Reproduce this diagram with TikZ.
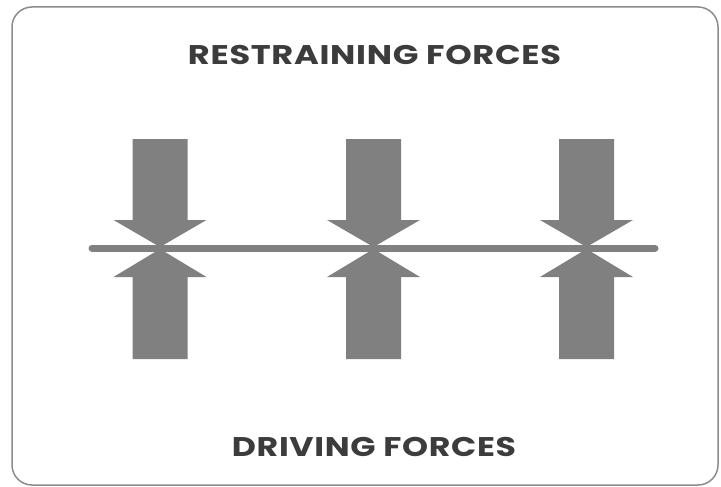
\documentclass[tikz,border=0pt]{standalone}
\usepackage{fontspec}
\setmainfont{Poppins}
\definecolor{arrowgray}{HTML}{808080}
\definecolor{framegray}{HTML}{8C8C8C}
\definecolor{textgray}{HTML}{3C3C3C}
\begin{document}
\begin{tikzpicture}[x=1pt,y=-1pt,
  frame/.style={draw=framegray,line width=1.5pt,rounded corners=20pt},
  forcearrow/.style={fill=arrowgray,draw=none},
  baseline/.style={draw=arrowgray,line width=7pt,line cap=round},
  title/.style={text=textgray,font=\fontsize{27}{30}\selectfont\bfseries\addfontfeature{LetterSpace=2},inner sep=0pt,anchor=base}]
\useasboundingbox (0,0) rectangle (721,487);
\draw[frame] (12,7) rectangle (718,485);
\foreach \cx/\nm in {160/a,373.5/b,586.5/c}{
  \fill[forcearrow] (\cx-27.5,139) -- (\cx+27.5,139) -- (\cx+27.5,220) -- (\cx+46.5,220)
     -- (\cx,247) -- (\cx-46.5,220) -- (\cx-27.5,220) -- cycle;
  \fill[forcearrow] (\cx-27.5,359) -- (\cx+27.5,359) -- (\cx+27.5,277) -- (\cx+46.5,277)
     -- (\cx,249) -- (\cx-46.5,277) -- (\cx-27.5,277) -- cycle;
}
\coordinate (L) at (92,248);
\coordinate (R) at (655,248);
\draw[baseline] (L) -- (R);
\node[title] (top) at (374.5,65) {\resizebox{373pt}{\height}{RESTRAINING FORCES}};
\node[title] (bot) at (374,456) {\resizebox{284pt}{\height}{DRIVING FORCES}};
\end{tikzpicture}
\end{document}
